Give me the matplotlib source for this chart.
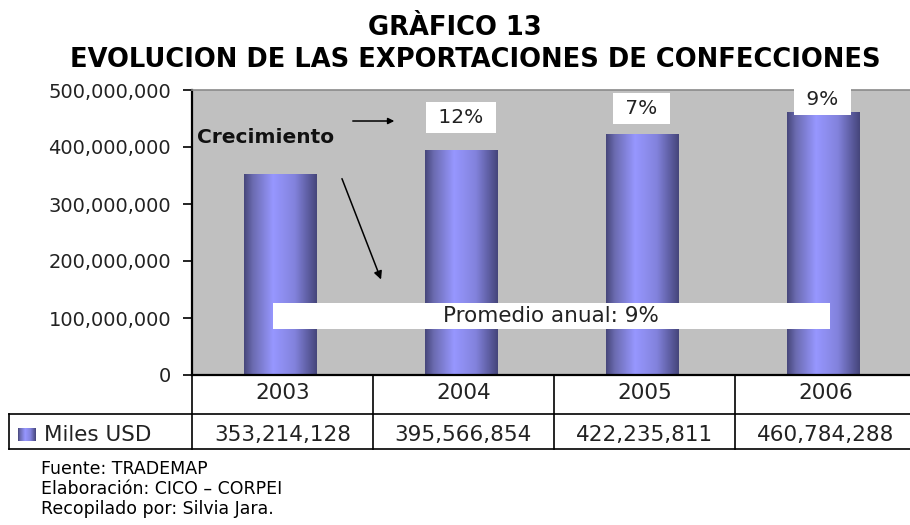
import numpy as np
import matplotlib
matplotlib.use('Agg')
import matplotlib.pyplot as plt
from matplotlib.colors import LinearSegmentedColormap
from matplotlib.patches import Rectangle
from matplotlib.transforms import blended_transform_factory
from matplotlib.ticker import FuncFormatter

# datos
years = ['2003', '2004', '2005', '2006']
miles_usd = [353214128, 395566854, 422235811, 460784288]
growth = ['', '12%', '7%', '9%']
promedio = 'Promedio anual: 9%'
fuente = ['Fuente: TRADEMAP', 'Elaboración: CICO – CORPEI', 'Recopilado por: Silvia Jara.']

plt.rcParams['font.family'] = ['DejaVu Sans']

W, H = 910, 525
fig = plt.figure(figsize=(W / 100, H / 100), dpi=100)

# area del grafico en pixeles (izq, der, arriba, abajo)
px_l, px_r, px_t, px_b = 192, 916, 90, 375
ax = fig.add_axes([px_l / W, 1 - px_b / H, (px_r - px_l) / W, (px_b - px_t) / H])
ax.set_facecolor('#c0c0c0')

x = np.arange(len(years))
ymax = 500000000

bar_cmap = LinearSegmentedColormap.from_list(
    'barra', [(0.0, '#46467a'), (0.12, '#6b6bb0'), (0.4, '#9797ff'),
              (0.7, '#8282dc'), (1.0, '#45457a')])
grad = np.linspace(0, 1, 256).reshape(1, -1)

bars = ax.bar(x - 0.015, miles_usd, width=0.4, color='none', edgecolor='none', zorder=2)
for b in bars:
    x0, w, h = b.get_x(), b.get_width(), b.get_height()
    im = ax.imshow(grad, cmap=bar_cmap, aspect='auto', extent=[x0, x0 + w, 0, h], zorder=2)
    im.set_clip_path(b)

ax.set_xlim(-0.5, len(years) - 0.5)
ax.set_ylim(0, ymax)
ax.set_yticks(np.arange(0, ymax + 1, 100000000))
ax.yaxis.set_major_formatter(FuncFormatter(lambda v, p: f'{int(v):,}'))
ax.tick_params(axis='y', length=6.5, width=1.2, labelsize=14, pad=8.5, colors='black')
ax.set_xticks([])
for lab in ax.get_yticklabels():
    lab.set_color('#222222')

ax.spines['left'].set_linewidth(1.6)
ax.spines['bottom'].set_linewidth(1.6)
ax.spines['top'].set_color('#8a8a8a')
ax.spines['top'].set_linewidth(1.2)
ax.spines['right'].set_visible(False)

# etiquetas de crecimiento
label_y = [0, 451e6, 467e6, 483e6]
for i, g in enumerate(growth):
    if g:
        ax.text(x[i] - 0.015, label_y[i], f' {g} ', ha='center', va='center', fontsize=14.5,
                color='#222222', zorder=4, clip_on=False,
                bbox=dict(boxstyle='square,pad=0.3', fc='white', ec='none'))

# promedio anual
ax.add_patch(Rectangle((-0.052, 80.7e6), 3.077, 45.6e6, fc='white', ec='none', zorder=3))
ax.text(1.483, 103.5e6, promedio, ha='center', va='center', fontsize=15.5,
        color='#222222', zorder=4)

# crecimiento y flechas
ax.text(-0.472, 417e6, 'Crecimiento', ha='left', va='center', fontsize=14.5,
        fontweight='bold', color='#111111', zorder=4)
ax.annotate('', xy=(0.633, 445.6e6), xytext=(0.373, 445.6e6),
            arrowprops=dict(arrowstyle='-|>', color='black', lw=1.1, mutation_scale=9))
ax.annotate('', xy=(0.55, 163e6), xytext=(0.323, 349e6),
            arrowprops=dict(arrowstyle='-|>', color='black', lw=1.1, mutation_scale=12))

# tabla de datos
tr = blended_transform_factory(ax.transData, ax.transAxes)
row1 = -39 / 285
row2 = -74 / 285
left_x = (9 - px_l) / 181 - 0.5
lkw = dict(color='black', lw=1.2, clip_on=False, transform=tr)
for xb in np.arange(-0.5, len(years)):
    ax.plot([xb, xb], [0, row2], **lkw)
ax.plot([left_x, len(years)], [row1, row1], **lkw)
ax.plot([left_x, len(years)], [row2, row2], **lkw)
ax.plot([left_x, left_x], [row1, row2], **lkw)

for i, yr in enumerate(years):
    ax.text(x[i], -18 / 285, yr, ha='center', va='center', fontsize=15.5,
            color='#222222', transform=tr, clip_on=False)
    ax.text(x[i], -60 / 285, f'{miles_usd[i]:,}', ha='center', va='center', fontsize=15.5,
            color='#222222', transform=tr, clip_on=False)

# marcador de la serie
sq = ax.imshow(grad, cmap=bar_cmap, aspect='auto', zorder=5,
               extent=[(18 - px_l) / 181 - 0.5, (35 - px_l) / 181 - 0.5, -115.8e6, -93e6])
sq.set_clip_on(False)
ax.text((44 - px_l) / 181 - 0.5, -60 / 285, 'Miles USD', ha='left', va='center',
        fontsize=15.5, color='#222222', transform=tr, clip_on=False)
ax.set_xlim(-0.5, len(years) - 0.5)
ax.set_ylim(0, ymax)

# titulo
fig.text(0.5, 1 - 28 / H, 'GRÀFICO 13', ha='center', va='center', fontsize=18.5,
         fontweight='bold')
fig.text(0.522, 1 - 60 / H, 'EVOLUCION DE LAS EXPORTACIONES DE CONFECCIONES', ha='center',
         va='center', fontsize=18.5, fontweight='bold')

# fuente
for k, t in enumerate(fuente):
    fig.text(41 / W, 1 - (469 + k * 20) / H, t, ha='left', va='center', fontsize=12.5)

fig.savefig('out.png', dpi=100)
